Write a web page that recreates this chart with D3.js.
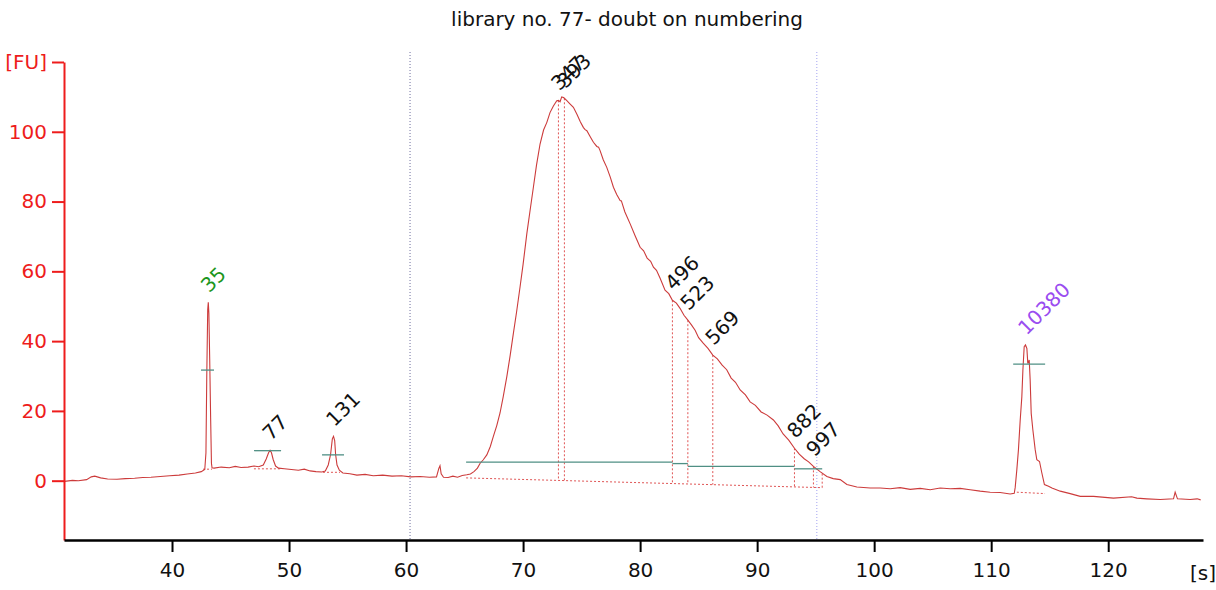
<!DOCTYPE html>
<html><head><meta charset="utf-8">
<script src="https://cdn.jsdelivr.net/npm/d3@7"></script>
<style>
body{margin:0;background:#fff}
text{font-family:'DejaVu Sans',sans-serif}
</style>
</head><body>
<svg id="chart" width="1216" height="590"></svg>
<script>
// ---------- data ----------
const chartTitle = "library no. 77- doubt on numbering";
const xTicks = [40,50,60,70,80,90,100,110,120];
const xTickLabels = ["40","50","60","70","80","90","100","110","120"];
const xUnit = "[s]";
const yTicks = [0,20,40,60,80,100,120];
const yTickLabels = ["0","20","40","60","80","100","[FU]"];

const traceTime = [30.8,31.5,32.0,32.7,33.1,33.4,33.9,34.5,35.3,36.0,36.8,37.5,38.2,39.0,39.8,40.6,41.3,42.0,42.5,42.8,
 42.9,42.97,43.05,43.1,43.15,43.22,43.3,43.37,43.42,43.6,44.2,44.9,45.4,45.9,46.5,47.0,47.4,47.8,48.05,48.25,48.38,48.5,48.65,48.85,49.1,
 49.6,50.2,50.8,51.3,51.8,52.3,52.8,53.1,53.35,53.55,53.7,53.8,53.9,53.98,54.1,54.3,54.6,55.2,55.8,56.5,57.2,58.0,58.8,59.6,60.4,61.2,62.0,62.6,62.8,62.9,63.0,63.2,63.6,64.0,64.4,64.8,
 65.19,65.5,65.8,66.1,66.33,66.6,66.9,67.2,67.46,67.75,68.03,68.3,68.61,68.9,69.17,69.45,69.74,70.0,70.32,70.6,70.88,71.15,71.45,71.75,72.03,72.3,72.59,72.88,73.02,73.16,73.3,73.45,73.53,73.74,74.0,74.3,74.6,74.9,75.16,75.3,75.45,75.75,76.01,76.3,76.45,76.58,76.85,77.15,77.45,77.72,78.0,78.29,78.4,78.7,79.15,79.6,80.0,80.3,80.6,80.9,81.14,81.4,81.71,82.13,82.45,82.76,83.1,83.41,83.75,84.08,84.4,84.7,85.0,85.39,85.8,86.21,86.6,87.01,87.4,87.78,88.15,88.55,89.0,89.4,89.85,90.34,90.85,91.39,91.8,92.22,92.7,93.19,93.6,94.02,94.4,94.81,95.38,95.96,96.5,97.1,97.67,98.52,99.66,100.51,
 101.37,102.22,103.08,103.93,104.79,105.64,106.5,107.35,108.2,109.06,109.91,110.77,111.62,111.97,112.05,112.19,112.33,112.48,112.62,112.71,112.82,112.93,113.05,113.13,113.25,113.33,113.42,113.56,113.76,113.9,114.13,114.33,114.55,114.9,115.19,115.9,116.75,117.61,118.75,120.45,122.0,122.45,123.3,124.44,125.58,125.72,125.92,127.0,127.6,127.9];
const traceFU = [-0.2,0.1,0.0,0.3,1.1,1.3,0.8,0.5,0.4,0.6,0.7,0.9,1.0,1.2,1.4,1.6,1.9,2.2,2.6,3.2,
 8,30,49,51.1,48,35,18,5,3.7,3.6,3.9,3.7,4.1,3.8,3.9,4.2,4.0,4.5,6.2,8.0,8.7,8.0,6.0,4.2,3.6,
 3.4,3.2,3.0,3.3,2.8,2.6,2.5,2.8,4.5,7.5,12.0,12.7,11.5,7.5,4.5,3.0,2.2,2.0,1.6,1.8,1.4,1.6,1.3,1.4,1.1,1.2,1.0,1.1,3.5,4.3,2.0,1.0,0.9,1.3,1.0,1.5,
 1.7,1.9,2.6,3.6,5.0,6.0,7.4,9.8,12.7,15.8,19.4,24.0,29.8,36.0,42.2,48.5,55.5,62.0,70.8,77.5,84.1,90.5,96.5,100.5,102.7,105.5,107.4,108.9,109.0,108.6,110.0,109.8,109.6,108.9,108.0,107.0,105.0,102.8,101.2,100.6,100.3,98.5,97.0,95.8,95.6,94.6,92.0,89.8,87.0,84.1,82.0,80.3,80.2,77.0,73.6,70.0,66.9,65.9,63.8,62.9,61.2,60.3,58.0,54.6,53.6,51.7,50.9,49.4,47.4,46.0,44.6,43.1,41.0,39.4,37.9,36.0,34.9,33.1,31.8,29.4,28.2,26.0,24.6,22.6,21.6,19.7,18.8,17.4,15.7,13.4,11.6,9.3,7.6,6.3,5.4,4.1,2.6,1.2,0.6,0.3,-1.1,-1.8,-2.1,-2.1,
 -2.3,-2.0,-2.5,-2.2,-2.6,-2.1,-2.3,-2.2,-2.6,-3.0,-3.3,-3.4,-3.8,-3.6,-2.0,3.1,8.9,17.4,24.1,31.7,38.4,38.9,37.9,33.6,34.6,28.9,19.3,14.6,8.9,6.0,5.5,2.2,-1.1,-1.6,-2.1,-3.0,-3.7,-4.5,-4.5,-5.0,-4.6,-5.0,-5.2,-5.4,-5.2,-3.3,-5.2,-5.4,-5.2,-5.5];

const peakLabels = ["35","77","131","347","393","496","523","569","882","997","10380"];
const peakTime   = [43.1,48.38,53.8,73.02,73.53,82.76,84.08,86.21,93.19,94.81,112.93];
const peakFU     = [51.1,8.7,12.7,109.0,109.6,51.7,46.0,36.0,9.3,4.1,38.9];
const peakKind   = ["lower","sample","sample","sample","sample","sample","sample","sample","sample","sample","upper"];

// half-height marker lines of single peaks
const markFrom  = [42.48,47.01,52.82,111.88];
const markTo    = [43.59,49.32,54.70,114.61];
const markFU    = [31.7,8.6,7.4,33.4];

// dotted baselines of single peaks
const baseFrom   = [42.65,47.0,52.9,112.19];
const baseTo     = [43.42,49.3,54.36,114.6];
const baseFromFU = [3.3,3.4,2.4,-3.3];
const baseToFU   = [3.3,3.4,2.4,-3.7];

// smear region
const smearFrom = 65.13, smearTo = 95.56;
const smearBaseFromFU = 0.8, smearBaseToFU = -2.0;
const smearLineFrom = [65.13,82.76,84.08,93.19];
const smearLineTo   = [82.76,84.08,93.19,95.56];
const smearLineFU   = [5.3,4.9,4.1,3.4];

// region boundary lines
const regionLines = [60.34, 95.1];

// ---------- drawing ----------
const svg = d3.select("#chart");
const x = d3.scaleLinear().domain([30.77,128.1]).range([64,1203]);
const y = d3.scaleLinear().domain([-17,120]).range([540,62]);
const traceColor = "#cc3b3b", dotColor = "#e05555", markColor = "#4f8f84";
const kindColor = {lower:"#1d961d", upper:"#9a4cf0", sample:"#111"};
const FONT = "'DejaVu Sans',sans-serif";

svg.append("text").attr("x",627).attr("y",26).attr("text-anchor","middle")
  .attr("font-size",20).attr("fill","#111").text(chartTitle);

// region boundary dotted lines
svg.selectAll(".rl").data(regionLines).join("line")
  .attr("x1",d=>x(d)).attr("x2",d=>x(d)).attr("y1",52).attr("y2",540)
  .attr("stroke",(d,i)=>i===0?"#6e6e9e":"#a4a4f0").attr("stroke-width",1).attr("stroke-dasharray","1,2");

// trace
const pts = traceTime.map((t,i)=>[t,traceFU[i]]);
const interp = t => {
  const i = d3.bisector(d=>d[0]).left(pts,t);
  if(i<=0) return pts[0][1];
  if(i>=pts.length) return pts[pts.length-1][1];
  const a=pts[i-1], b=pts[i]; const f=(t-a[0])/(b[0]-a[0]);
  return a[1]+f*(b[1]-a[1]);
};

// smear dotted baseline + verticals
const sb = t => smearBaseFromFU + (t-smearFrom)/(smearTo-smearFrom)*(smearBaseToFU-smearBaseFromFU);
svg.append("line").attr("x1",x(smearFrom)).attr("x2",x(smearTo)).attr("y1",y(sb(smearFrom))).attr("y2",y(sb(smearTo)))
  .attr("stroke",dotColor).attr("stroke-dasharray","2,2");
svg.append("line").attr("x1",x(smearTo)).attr("x2",x(smearTo)).attr("y1",y(sb(smearTo))).attr("y2",y(interp(smearTo)))
  .attr("stroke",dotColor).attr("stroke-dasharray","2,2");
peakTime.forEach((t,i)=>{
  if(t>smearFrom && t<smearTo){
    svg.append("line").attr("x1",x(t)).attr("x2",x(t)).attr("y1",y(peakFU[i])).attr("y2",y(sb(t)))
      .attr("stroke",dotColor).attr("stroke-dasharray","2,2");
  }
});
// single peak dotted baselines
baseFrom.forEach((t,i)=>{
  svg.append("line").attr("x1",x(t)).attr("x2",x(baseTo[i])).attr("y1",y(baseFromFU[i])).attr("y2",y(baseToFU[i]))
    .attr("stroke",dotColor).attr("stroke-dasharray","2,2");
});

svg.append("path").datum(pts)
  .attr("d",d3.line().x(d=>x(d[0])).y(d=>y(d[1])))
  .attr("fill","none").attr("stroke",traceColor).attr("stroke-width",1.1);

// marker lines
markFrom.forEach((t,i)=>{
  svg.append("line").attr("x1",x(t)).attr("x2",x(markTo[i])).attr("y1",y(markFU[i])).attr("y2",y(markFU[i]))
    .attr("stroke",markColor).attr("stroke-width",1.3);
});
smearLineFrom.forEach((t,i)=>{
  svg.append("line").attr("x1",x(t)).attr("x2",x(smearLineTo[i])).attr("y1",y(smearLineFU[i])).attr("y2",y(smearLineFU[i]))
    .attr("stroke",markColor).attr("stroke-width",1.3);
});

// peak labels
peakLabels.forEach((lab,i)=>{
  svg.append("text")
    .attr("transform",`translate(${x(peakTime[i])+1},${y(peakFU[i])-9}) rotate(-45)`)
    .attr("font-size",20).attr("fill",kindColor[peakKind[i]]).text(lab);
});

// axes
const yAxis = svg.append("g").attr("transform","translate(64,0)")
  .call(d3.axisLeft(y).tickValues(yTicks).tickFormat((d,i)=>yTickLabels[i]).tickSize(12).tickSizeOuter(0).tickPadding(5));
yAxis.select(".domain").attr("stroke","#ee1c1c").attr("stroke-width",2);
yAxis.selectAll(".tick line").attr("stroke","#ee1c1c").attr("stroke-width",2);
yAxis.selectAll(".tick text").attr("fill","#ee1c1c").attr("font-size",20).style("font-family",FONT);

const xAxis = svg.append("g").attr("transform","translate(0,540)")
  .call(d3.axisBottom(x).tickValues(xTicks).tickFormat((d,i)=>xTickLabels[i]).tickSize(12).tickSizeOuter(0).tickPadding(11));
xAxis.select(".domain").attr("stroke","#000").attr("stroke-width",2.5);
xAxis.selectAll(".tick line").attr("stroke","#000").attr("stroke-width",2);
xAxis.selectAll(".tick text").attr("fill","#111").attr("font-size",20).style("font-family",FONT);
svg.append("text").attr("x",x(128.1)).attr("y",580).attr("text-anchor","middle")
  .attr("font-size",20).attr("fill","#111").text(xUnit);
</script>
</body></html>
